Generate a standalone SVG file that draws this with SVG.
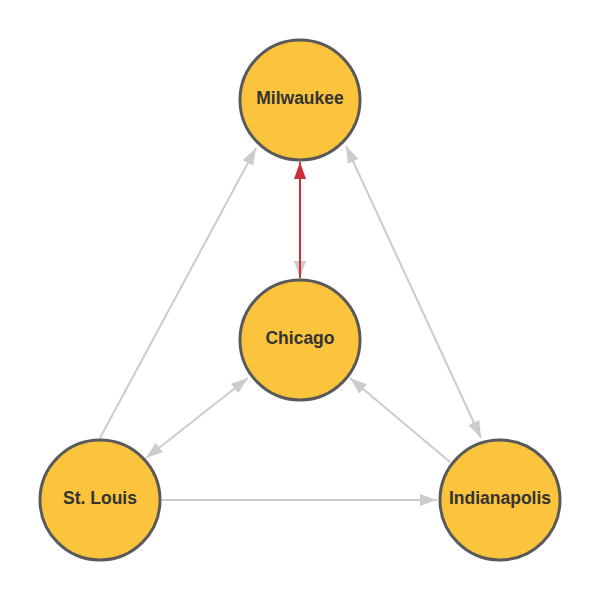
<svg xmlns="http://www.w3.org/2000/svg" width="600" height="600" viewBox="0 0 600 600">
<style>
.node circle{fill:#fbc43c;stroke:#5a5a5a;stroke-width:3}
.node text{font-family:"Liberation Sans",Arial,sans-serif;font-weight:bold;font-size:17.5px;fill:#333;text-anchor:middle;dominant-baseline:central}
.e{stroke:#cccccc;stroke-width:2;fill:none}
.r{stroke:#cc2f3b;stroke-width:2;fill:none}
</style>
<defs>
<marker id="ag" markerUnits="userSpaceOnUse" markerWidth="18" markerHeight="13" refX="17" refY="6" orient="auto-start-reverse" viewBox="0 0 18 13"><path d="M0,0 L17,6 L0,12 z" fill="#cccccc"/></marker>
<marker id="ar" markerUnits="userSpaceOnUse" markerWidth="18" markerHeight="13" refX="17" refY="6" orient="auto" viewBox="0 0 18 13"><path d="M0,0 L17,6 L0,12 z" fill="#cc2f3b"/></marker>
</defs>
<g id="edges">
<line class="e" x1="300" y1="162" x2="300" y2="278" marker-end="url(#ag)"/>
<line class="r" x1="300" y1="278" x2="300" y2="162" marker-end="url(#ar)"/>
<line class="e" x1="100" y1="438" x2="256" y2="148" marker-end="url(#ag)"/>
<line class="e" x1="346" y1="146" x2="481" y2="438" marker-start="url(#ag)" marker-end="url(#ag)"/>
<line class="e" x1="248" y1="378" x2="146" y2="458" marker-start="url(#ag)" marker-end="url(#ag)"/>
<line class="e" x1="450" y1="462" x2="350" y2="378" marker-end="url(#ag)"/>
<line class="e" x1="162" y1="500" x2="437" y2="500" marker-end="url(#ag)"/>
</g>
<g id="milwaukee" class="node"><circle cx="300" cy="100" r="60"/><text x="300" y="98">Milwaukee</text></g>
<g id="chicago" class="node"><circle cx="300" cy="340" r="60"/><text x="300" y="338">Chicago</text></g>
<g id="stlouis" class="node"><circle cx="100" cy="500" r="60"/><text x="100" y="498">St. Louis</text></g>
<g id="indianapolis" class="node"><circle cx="500" cy="500" r="60"/><text x="500" y="498">Indianapolis</text></g>
</svg>
